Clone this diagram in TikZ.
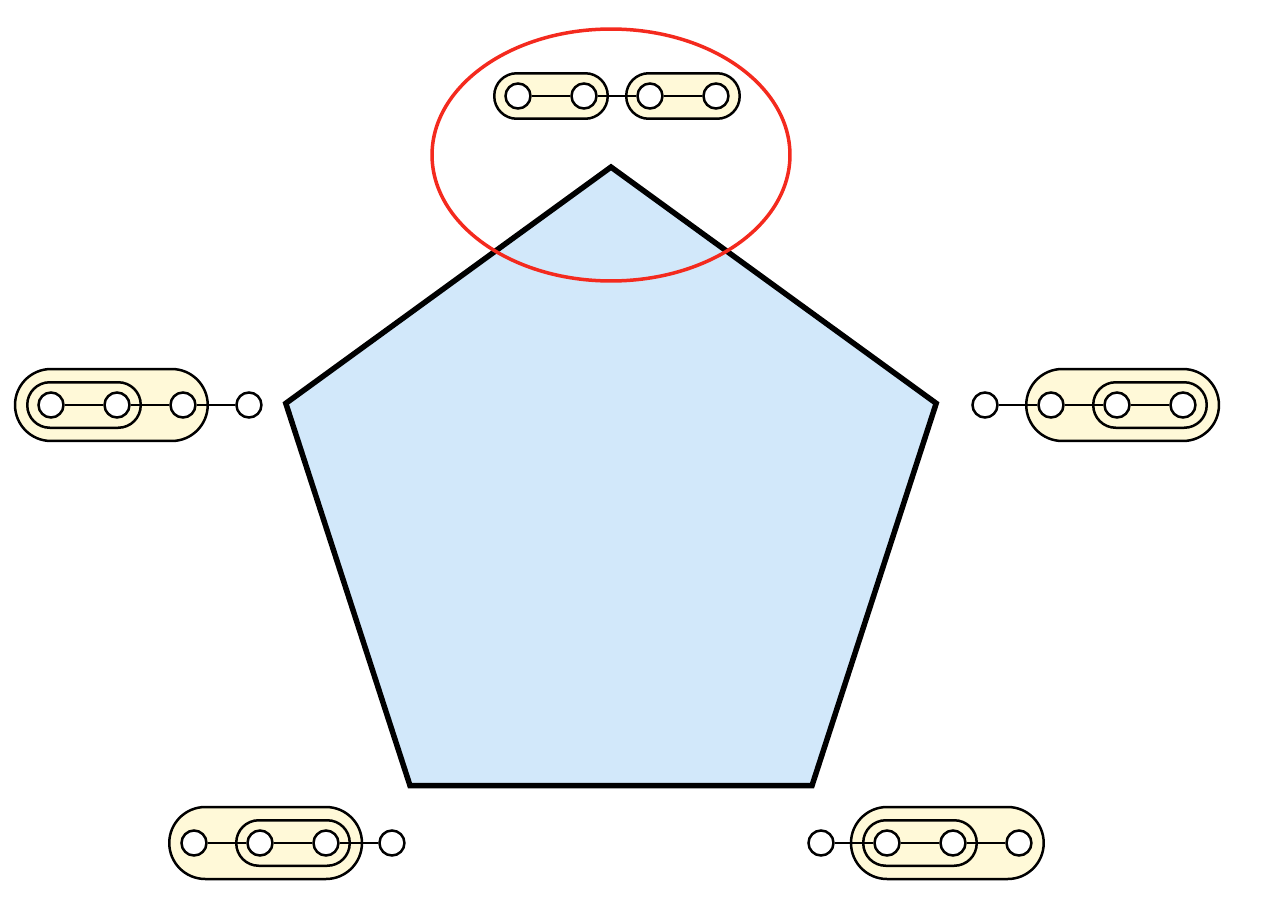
\documentclass[tikz,border=0pt]{standalone}
\usepackage{tikz}
\usetikzlibrary{shapes, positioning, fit}
\definecolor{paleblue}{HTML}{D2E8FA}
\definecolor{paleyellow}{HTML}{FFF9D8}
\definecolor{ringred}{HTML}{F42A1E}
\pgfdeclarelayer{outer}
\pgfdeclarelayer{inner}
\pgfsetlayers{outer,inner,main}

\begin{document}
\begin{tikzpicture}[x=0.02cm, y=-0.02cm, node distance=1.32cm]
\tikzstyle{dot}=[draw, circle, fill=white, minimum size=0.5cm, inner sep=0pt, line width=0.05cm]
\tikzstyle{pill}=[draw, rectangle, fill=paleyellow, rounded corners=0.45cm, inner xsep=0.2cm, inner ysep=0.18cm, line width=0.05cm]
\tikzstyle{bigpill}=[draw, rectangle, fill=paleyellow, rounded corners=0.72cm, inner xsep=0.22cm, inner ysep=0.24cm, line width=0.05cm]
\tikzstyle{link}=[draw, line width=0.05cm]

\useasboundingbox (0,0) rectangle (1288,906);

\node[draw, regular polygon, regular polygon sides=5, minimum size=13.68cm, inner sep=0pt, fill=paleblue, line width=0.11cm] (pent) at (611,509) {};
\node[draw=ringred, ellipse, minimum width=7.16cm, minimum height=5.04cm, inner sep=0pt, line width=0.07cm] (ring) at (611,155) {};

% top
\node[dot]    (t1) at (518,96) {};
\node[dot]    (t2)[right of=t1] {};
\node[dot]    (t3)[right of=t2] {};
\node[dot]    (t4)[right of=t3] {};

% left
\node[dot]    (l1) at (51,405) {};
\node[dot]    (l2)[right of=l1] {};
\node[dot]    (l3)[right of=l2] {};
\node[dot]    (l4)[right of=l3] {};

% right
\node[dot]    (r1) at (985,405) {};
\node[dot]    (r2)[right of=r1] {};
\node[dot]    (r3)[right of=r2] {};
\node[dot]    (r4)[right of=r3] {};

% bottom left
\node[dot]    (bl1) at (194,843) {};
\node[dot]    (bl2)[right of=bl1] {};
\node[dot]    (bl3)[right of=bl2] {};
\node[dot]    (bl4)[right of=bl3] {};

% bottom right
\node[dot]    (br1) at (821,843) {};
\node[dot]    (br2)[right of=br1] {};
\node[dot]    (br3)[right of=br2] {};
\node[dot]    (br4)[right of=br3] {};

\begin{pgfonlayer}{inner}
\node[pill, fit=(t1)(t2)]   (T12) {};
\node[pill, fit=(t3)(t4)]   (T34) {};
\node[pill, fit=(l1)(l2)]   (L12) {};
\node[pill, fit=(r3)(r4)]   (R34) {};
\node[pill, fit=(bl2)(bl3)] (BL23) {};
\node[pill, fit=(br2)(br3)] (BR23) {};
\end{pgfonlayer}

\begin{pgfonlayer}{outer}
\node[bigpill, fit=(L12)(l3)]   (L) {};
\node[bigpill, fit=(r2)(R34)]   (R) {};
\node[bigpill, fit=(bl1)(BL23)] (BL) {};
\node[bigpill, fit=(BR23)(br4)] (BR) {};
\end{pgfonlayer}

\path[link]
(t1) edge (t2)  (t2) edge (t3)  (t3) edge (t4)
(l1) edge (l2)  (l2) edge (l3)  (l3) edge (l4)
(r1) edge (r2)  (r2) edge (r3)  (r3) edge (r4)
(bl1) edge (bl2)  (bl2) edge (bl3)  (bl3) edge (bl4)
(br1) edge (br2)  (br2) edge (br3)  (br3) edge (br4);

\end{tikzpicture}
\end{document}
